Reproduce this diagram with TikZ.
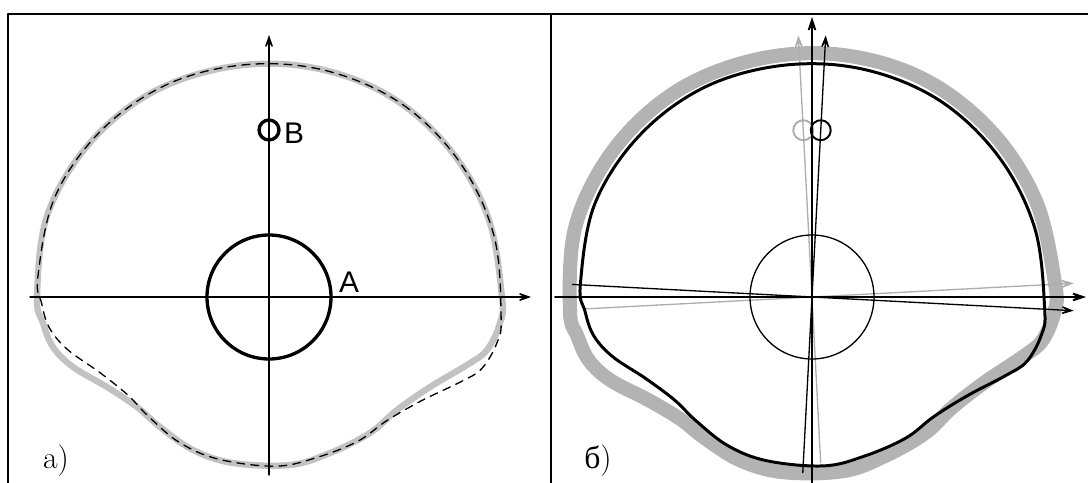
\documentclass[tikz,border=0pt]{standalone}
\usepackage{fontspec}
\usetikzlibrary{arrows.meta}
\newfontfamily\labelfont{Liberation Sans}
\newfontfamily\cyrfont{Liberation Serif}
\definecolor{rim}{HTML}{C2C2C2}
\definecolor{band}{HTML}{B3B3B3}
\definecolor{ghost}{HTML}{ADADAD}

% outline of the section, in px around its centre
\newcommand\rimpath{plot[smooth cycle,tension=0.6] coordinates {
  (40,230) (117,203) (179,150) (219,80) (233,0)
  (231,-26) (218,-53) (198,-68) (161,-90) (128,-113) (101,-136)
  (61,-156) (21,-168) (-36,-166) (-76,-153) (-109,-130) (-132,-110)
  (-162,-90) (-196,-70) (-216,-50) (-226,-26) (-232,0) (-222,81)
  (-181,152) (-118,204) (-40,230)}}

\begin{document}
\begin{tikzpicture}[x=0.02cm,y=0.02cm,line cap=round,line join=round,
  axisline/.style={line width=0.75pt,-{Stealth[length=10pt,width=7pt,inset=6pt]}},
  mainaxis/.style={line width=1pt,-{Stealth[length=12pt,width=8pt,inset=7pt]}},
  letter/.style={font=\labelfont\fontsize{17}{19}\selectfont,inner sep=0pt},
  caption/.style={font=\fontsize{18}{20}\selectfont,inner sep=0pt}]
  \useasboundingbox (0,0) rectangle (1088,483);
  % frame
  \draw[line width=1.1pt] (8,0)--(8,469)--(1088,469) (551,0)--(551,469);

  % a)
  \begin{scope}[shift={(269,186)}]
    \draw[rim,line width=3.6pt] \rimpath;
    \draw[line width=0.75pt,dash pattern=on 4.5pt off 3.5pt,rotate=-5] \rimpath;
    \draw[axisline] (-239,0)--(262,0);
    \draw[axisline] (0,-178)--(0,262);
    \draw[line width=1.9pt] (0,0) circle (62);
    \draw[line width=1.9pt] (0,167) circle (10);
    \node[letter] (lblA) at (80,15) {A};
    \node[letter] (lblB) at (25,164) {B};
  \end{scope}
  \node[caption] (capA) at (56,22) {a)};

  % b)
  \begin{scope}[shift={(812,186)}]
    \draw[band,line width=8pt,scale=1.045,rotate=3] \rimpath;
    \begin{scope}[rotate=3,ghost]
      \draw[axisline] (-228,0)--(262,0);
      \draw[axisline] (0,-166)--(0,262);
      \draw[line width=1.1pt] (0,167) circle (10);
    \end{scope}
    \draw[line width=1.7pt,rotate=-3] \rimpath;
    \draw[line width=0.75pt] (0,0) circle (62);
    \begin{scope}[rotate=-3]
      \draw[axisline] (-240,0)--(262,0);
      \draw[axisline] (0,-176)--(0,262);
      \draw[line width=1.1pt] (0,167) circle (10);
    \end{scope}
    \draw[mainaxis] (-257,0)--(274,0);
    \draw[mainaxis] (0,-192)--(0,280);
  \end{scope}
  \node[caption] (capB) at (598,22) {\cyrfont б\normalfont)};
\end{tikzpicture}
\end{document}
